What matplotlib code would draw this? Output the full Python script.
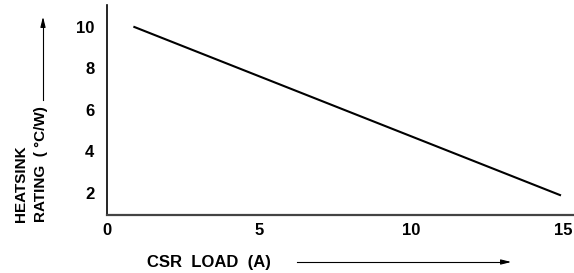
import matplotlib
matplotlib.use("Agg")
import matplotlib.pyplot as plt

# heatsink rating vs CSR load
load_a = [0.9, 14.9]
rating_cw = [10.0, 1.9]

x_ticks = [0, 5, 10, 15]
y_ticks = [2, 4, 6, 8, 10]

plt.rcParams['font.family'] = ['Liberation Sans', 'DejaVu Sans']
plt.rcParams['font.weight'] = 'bold'

fig = plt.figure(figsize=(5.74, 2.73), dpi=100)
ax = fig.add_axes([0.1864, 0.2125, 0.8136, 0.7692])

ax.plot(load_a, rating_cw, color='black', lw=1.5)

ax.set_xlim(0, 15.36)
ax.set_ylim(0.94, 11.06)
ax.set_xticks(x_ticks)
ax.set_yticks(y_ticks)
ax.tick_params(length=0, labelsize=12)
ax.tick_params(axis='y', pad=9)
ax.tick_params(axis='x', pad=6)
for lbl in ax.get_xticklabels() + ax.get_yticklabels():
    lbl.set_fontweight('bold')

ax.spines['top'].set_visible(False)
ax.spines['right'].set_visible(False)
ax.spines['left'].set_linewidth(1.2)
ax.spines['bottom'].set_linewidth(1.6)
ax.spines['bottom'].set_color('#444444')

# axis titles with arrows, drawn in figure pixels
W, H = 574, 273
fig.text(21 / W, 1 - 222 / H, 'HEATSINK', rotation=90, ha='center', va='bottom',
         fontsize=11, fontweight='bold')
fig.text(41 / W, 1 - 222 / H, 'RATING  ( °C/W)', rotation=90, ha='center', va='bottom',
         fontsize=11, fontweight='bold')
fig.add_artist(plt.Line2D([43 / W, 43 / W], [1 - 100 / H, 1 - 24 / H], color='black', lw=0.8))
ax.annotate('', xy=(43 / W, 1 - 14 / H), xytext=(43 / W, 1 - 26 / H),
            xycoords='figure fraction', textcoords='figure fraction',
            arrowprops=dict(arrowstyle='-|>,head_length=0.6,head_width=0.15', color='black', lw=0.8))

fig.text(209 / W, 1 - 263 / H, 'CSR  LOAD  (A)', ha='center', va='center',
         fontsize=12, fontweight='bold')
fig.add_artist(plt.Line2D([297 / W, 505 / W], [1 - 262 / H, 1 - 262 / H], color='black', lw=0.8))
ax.annotate('', xy=(514 / W, 1 - 262 / H), xytext=(502 / W, 1 - 262 / H),
            xycoords='figure fraction', textcoords='figure fraction',
            arrowprops=dict(arrowstyle='-|>,head_length=0.6,head_width=0.15', color='black', lw=0.8))

fig.savefig('out.png', dpi=100)
